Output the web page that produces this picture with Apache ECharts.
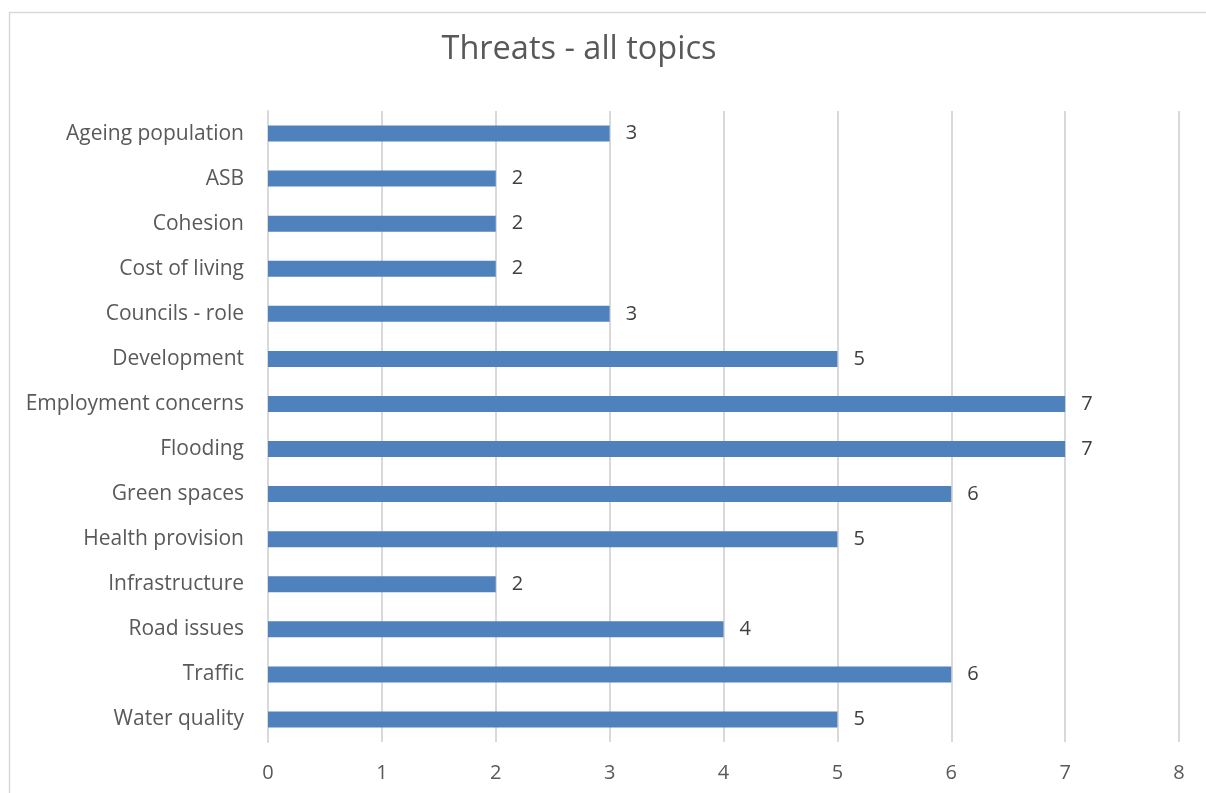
<!DOCTYPE html>
<html>
<head>
<meta charset="utf-8">
<script src="https://cdn.jsdelivr.net/npm/echarts@6/dist/echarts.min.js"></script>
<style>
  html, body { margin: 0; padding: 0; background: #fff; }
  #chart { width: 1206px; height: 793px; }
</style>
</head>
<body>
<div id="chart"></div>
<script>
// 分类与数值
const categories = ['Ageing population', 'ASB', 'Cohesion', 'Cost of living', 'Councils - role',
  'Development', 'Employment concerns', 'Flooding', 'Green spaces', 'Health provision',
  'Infrastructure', 'Road issues', 'Traffic', 'Water quality']
const counts = [3, 2, 2, 2, 3, 5, 7, 7, 6, 5, 2, 4, 6, 5]

const font = '"Open Sans", Lato, sans-serif'

const chart = echarts.init(document.getElementById('chart'))
chart.setOption({
  animation: false,
  title: {
    text: 'Threats - all topics',
    left: 574,
    top: 28,
    textAlign: 'center',
    textStyle: { fontFamily: font, fontSize: 32.5, fontWeight: 'normal', color: '#595959' }
  },
  graphic: [{
    type: 'rect',
    shape: { x: 9.5, y: 12.5, width: 1220, height: 820 },
    style: { fill: 'none', stroke: '#d9d9d9', lineWidth: 1.5 },
    silent: true
  }],
  grid: { left: 268, right: 27, top: 111, bottom: 51 },
  xAxis: {
    type: 'value',
    min: 0,
    max: 8,
    interval: 1,
    axisLine: { show: false },
    axisTick: { show: false },
    splitLine: { lineStyle: { color: '#d9d9d9', width: 2 } },
    axisLabel: { fontFamily: font, fontSize: 20, color: '#595959', margin: 21 }
  },
  yAxis: {
    type: 'category',
    data: categories,
    inverse: true,
    axisLine: { show: true, lineStyle: { color: '#d9d9d9', width: 2 } },
    axisTick: { show: false },
    axisLabel: { fontFamily: font, fontSize: 21, color: '#595959', margin: 24 }
  },
  series: [{
    type: 'bar',
    data: counts,
    barWidth: 16,
    itemStyle: { color: '#4f81bd' },
    label: {
      show: true,
      position: 'right',
      distance: 16,
      fontFamily: font,
      fontSize: 20,
      color: '#404040'
    }
  }]
})
</script>
</body>
</html>
